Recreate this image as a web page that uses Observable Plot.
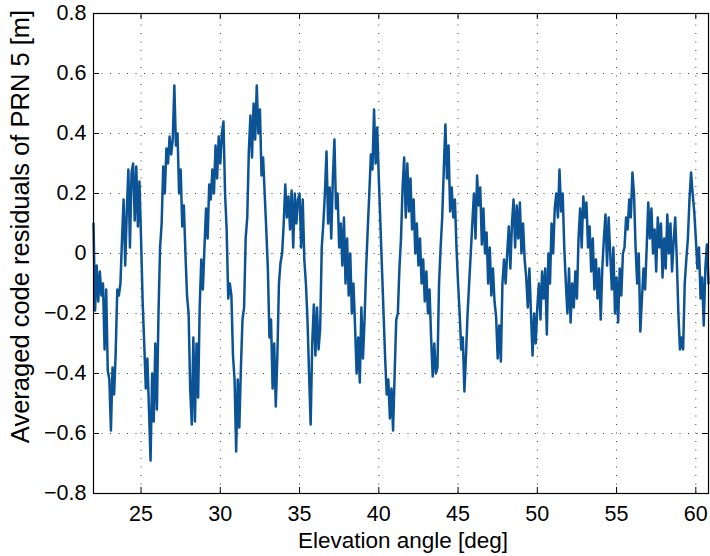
<!DOCTYPE html>
<html>
<head>
<meta charset="utf-8">
<script src="https://cdn.jsdelivr.net/npm/d3@7"></script>
<script src="https://cdn.jsdelivr.net/npm/@observablehq/plot@0.6"></script>
<style>
  html, body { margin: 0; padding: 0; background: #fff; }
  #chart svg { display: block; }
</style>
</head>
<body>
<div id="chart"></div>
<script>
// Sampling grid of the elevation angle (deg)
const elevationStart = 22.0;
const elevationStep = 0.1;

// Averaged code residuals of PRN 5 [m] (one row per degree)
const residuals = [
  0.10, -0.19, -0.04, -0.16, -0.06, -0.14, -0.10, -0.32, -0.12, -0.39, // 22
  -0.42, -0.59, -0.38, -0.47, -0.33, -0.12, -0.14, -0.10, 0.05, 0.18,  // 23
  -0.04, 0.14, 0.28, 0.02, 0.27, 0.30, 0.11, 0.29, 0.09, 0.24,         // 24
  0.05, -0.16, -0.30, -0.45, -0.35, -0.52, -0.69, -0.40, -0.56, -0.30, // 25
  -0.52, -0.20, 0.02, 0.10, 0.29, 0.20, 0.35, 0.30, 0.39, 0.33,        // 26
  0.38, 0.56, 0.36, 0.40, 0.20, 0.28, 0.09, 0.16, 0.00, -0.14,         // 27
  -0.20, -0.45, -0.57, -0.28, -0.56, -0.30, -0.48, -0.18, -0.02, -0.12,// 28
  0.02, 0.15, 0.05, 0.23, 0.18, 0.28, 0.20, 0.36, 0.25, 0.39,          // 29
  0.30, 0.40, 0.44, 0.20, 0.08, -0.15, -0.10, -0.14, -0.34, -0.42,     // 30
  -0.66, -0.42, -0.58, -0.38, -0.22, -0.18, 0.05, 0.12, 0.34, 0.46,    // 31
  0.32, 0.50, 0.38, 0.56, 0.40, 0.48, 0.26, 0.32, 0.20, 0.08,          // 32
  -0.05, -0.28, -0.22, -0.45, -0.30, -0.51, -0.34, -0.10, -0.03, 0.00, // 33
  0.10, 0.23, 0.12, 0.19, 0.08, 0.21, 0.02, 0.20, 0.10, 0.18,          // 34
  0.20, 0.02, 0.18, -0.02, -0.10, -0.22, -0.40, -0.57, -0.30, -0.17,   // 35
  -0.34, -0.18, -0.32, -0.25, 0.02, 0.10, 0.20, 0.34, 0.10, 0.22,      // 36
  0.05, 0.25, 0.38, 0.15, 0.20, 0.02, 0.10, -0.04, 0.12, -0.10,        // 37
  0.05, -0.14, 0.00, -0.20, -0.10, -0.24, -0.40, -0.28, -0.43, -0.18,  // 38
  -0.35, -0.22, -0.05, 0.08, 0.20, 0.33, 0.28, 0.48, 0.30, 0.42,       // 39
  0.25, 0.10, -0.05, -0.20, -0.35, -0.47, -0.42, -0.55, -0.45, -0.59,  // 40
  -0.40, -0.22, -0.20, -0.05, 0.05, 0.22, 0.32, 0.12, 0.30, 0.14,      // 41
  0.25, 0.08, 0.18, 0.00, 0.10, -0.04, 0.05, -0.10, -0.02, -0.16,      // 42
  -0.06, -0.20, -0.12, -0.28, -0.41, -0.30, -0.40, -0.38, -0.10, 0.02, // 43
  0.12, 0.28, 0.43, 0.25, 0.36, 0.14, 0.22, 0.12, 0.18, 0.02,          // 44
  -0.10, -0.20, -0.32, -0.28, -0.46, -0.34, -0.20, -0.10, 0.00, 0.10,  // 45
  0.20, 0.05, 0.26, 0.16, 0.22, 0.03, 0.15, 0.00, 0.07, -0.10,         // 46
  0.02, -0.14, -0.05, -0.16, -0.21, -0.35, -0.24, -0.36, -0.10, -0.02, // 47
  -0.10, 0.00, 0.09, -0.05, 0.10, 0.18, 0.02, 0.16, 0.05, 0.17,        // 48
  0.00, 0.10, -0.02, -0.08, -0.18, -0.05, -0.20, -0.34, -0.20, -0.30,  // 49
  -0.18, -0.10, -0.22, -0.06, -0.15, -0.05, -0.27, 0.00, -0.10, 0.10,  // 50
  0.00, 0.15, 0.20, 0.12, 0.28, 0.14, 0.20, 0.02, -0.10, -0.20,        // 51
  -0.05, -0.23, -0.10, -0.18, -0.06, -0.15, 0.05, 0.15, 0.02, 0.19,    // 52
  0.12, 0.17, 0.02, 0.09, -0.06, 0.05, -0.12, -0.02, -0.15, -0.05,     // 53
  -0.22, -0.05, 0.05, 0.13, -0.04, 0.12, 0.00, -0.12, 0.02, -0.20,     // 54
  -0.08, -0.23, -0.05, -0.14, 0.00, 0.02, 0.12, 0.08, 0.18, 0.12,      // 55
  0.27, 0.20, 0.02, -0.10, 0.00, -0.26, -0.15, -0.05, -0.12, 0.02,     // 56
  0.17, 0.05, 0.15, 0.00, 0.08, -0.06, 0.12, 0.02, 0.10, -0.08,        // 57
  0.05, -0.05, 0.13, 0.00, 0.10, -0.06, 0.04, 0.12, -0.02, -0.20,      // 58
  -0.32, -0.28, -0.32, -0.10, -0.02, 0.05, 0.18, 0.27, 0.20, 0.14,     // 59
  0.05, -0.05, 0.02, -0.15, -0.08, -0.24, -0.05, 0.03, -0.10           // 60
];

// Axis ranges and ticks
const xDomain = [22, 60.8];
const yDomain = [-0.8, 0.8];
const xTicks = [25, 30, 35, 40, 45, 50, 55, 60];
const yTicks = [-0.8, -0.6, -0.4, -0.2, 0, 0.2, 0.4, 0.6, 0.8];
const xLabel = "Elevation angle [deg]";
const yLabel = "Averaged code residuals of PRN 5 [m]";

const data = residuals.map((v, i) => ({
  elev: +(elevationStart + i * elevationStep).toFixed(2),
  res: v
}));

const fmtY = d => d === 0 ? "0" : (d < 0 ? "\u2212" : "") + Math.abs(d).toFixed(1);

const W = 710, H = 556;
const mL = 93, mR = 2, mT = 13, mB = 63;
const pxX = (xDomain[1] - xDomain[0]) / (W - mL - mR);
const pxY = (yDomain[1] - yDomain[0]) / (H - mT - mB);
const tickLen = 6;

const gridStyle = {stroke: "#000", strokeOpacity: 0.75, strokeWidth: 1, strokeDasharray: "1,7.5"};

const chart = Plot.plot({
  width: W,
  height: H,
  marginLeft: mL,
  marginRight: mR,
  marginTop: mT,
  marginBottom: mB,
  style: {fontFamily: "'Liberation Sans', Arial, Helvetica, sans-serif", background: "#fff", color: "#000"},
  x: {domain: xDomain, label: null},
  y: {domain: yDomain, label: null},
  marks: [
    Plot.ruleX(xTicks, {x: d => d, y1: yDomain[0], y2: yDomain[1], ...gridStyle}),
    Plot.ruleY(yTicks, {y: d => d, x1: xDomain[0], x2: xDomain[1], ...gridStyle}),
    Plot.line(data, {x: "elev", y: "res", stroke: "#0b5394", strokeWidth: 2.5, strokeLinejoin: "round"}),
    // inward tick marks on all four sides
    Plot.ruleX(xTicks, {x: d => d, y1: yDomain[0], y2: yDomain[0] + tickLen * pxY, stroke: "#000"}),
    Plot.ruleX(xTicks, {x: d => d, y1: yDomain[1] - tickLen * pxY, y2: yDomain[1], stroke: "#000"}),
    Plot.ruleY(yTicks, {y: d => d, x1: xDomain[0], x2: xDomain[0] + tickLen * pxX, stroke: "#000"}),
    Plot.ruleY(yTicks, {y: d => d, x1: xDomain[1] - tickLen * pxX, x2: xDomain[1], stroke: "#000"}),
    Plot.frame({stroke: "#000", strokeWidth: 1.2}),
    Plot.axisX(xTicks, {anchor: "bottom", label: null, tickSize: 0, tickPadding: 12, fontSize: 21.5, tickFormat: d => String(d)}),
    Plot.axisY(yTicks, {anchor: "left", label: null, tickSize: 0, tickPadding: 7, fontSize: 21.5, tickFormat: fmtY}),
    Plot.text([xLabel], {text: d => d, frameAnchor: "bottom", textAnchor: "middle", dx: 2, dy: 47, fontSize: 22.5, lineAnchor: "middle", fill: "#000"}),
    Plot.text([yLabel], {text: d => d, frameAnchor: "left", textAnchor: "middle", dx: -73, dy: -27, rotate: -90, fontSize: 25.5, lineAnchor: "middle", fill: "#000"})
  ]
});
document.getElementById("chart").appendChild(chart);
</script>
</body>
</html>
